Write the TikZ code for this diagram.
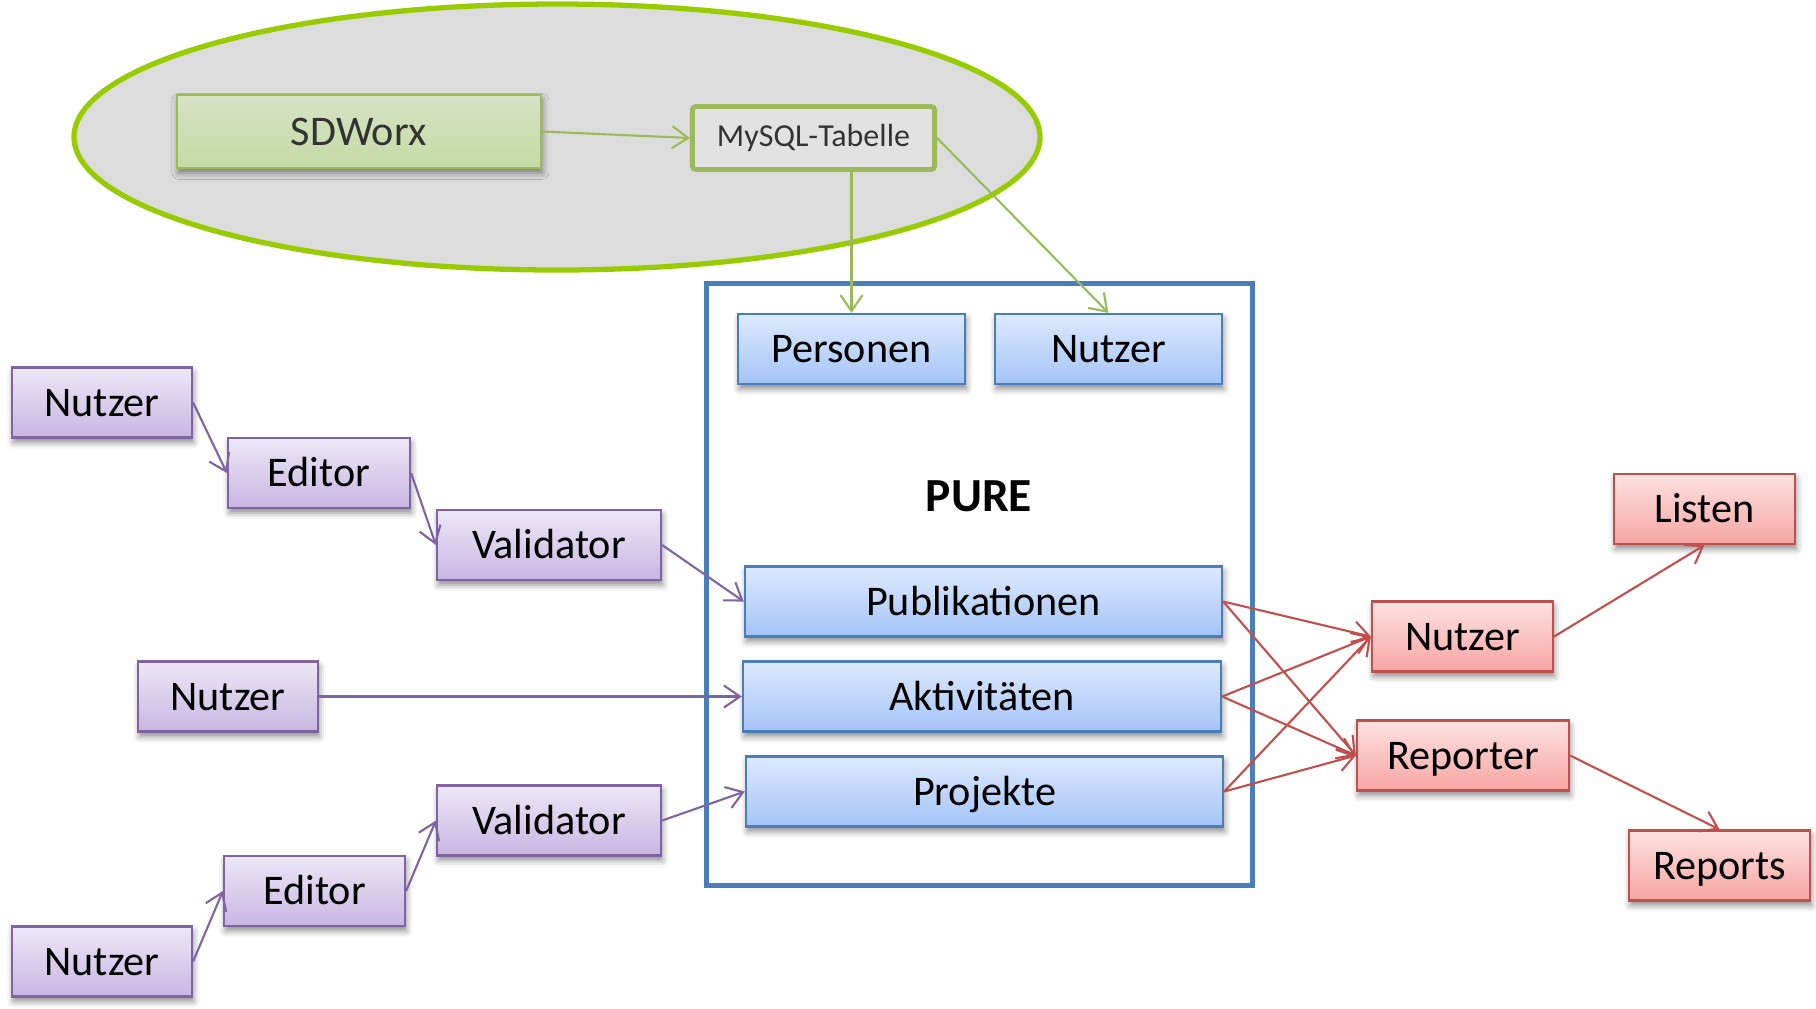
\documentclass[tikz,border=0pt]{standalone}
\usepackage{fontspec}
\setmainfont{Carlito}
\usetikzlibrary{arrows.meta}
\usetikzlibrary{shadows.blur}
\usetikzlibrary{calc}

\definecolor{ovalline}{RGB}{153,204,0}
\definecolor{ovalfill}{RGB}{220,220,220}
\definecolor{grnline}{RGB}{155,187,89}
\definecolor{grntop}{RGB}{215,227,198}
\definecolor{grnbot}{RGB}{196,219,163}
\definecolor{sqlfill}{RGB}{226,226,226}
\definecolor{bluline}{RGB}{74,126,187}
\definecolor{blutop}{RGB}{222,233,253}
\definecolor{blubot}{RGB}{163,196,248}
\definecolor{violine}{RGB}{128,100,162}
\definecolor{viotop}{RGB}{237,231,246}
\definecolor{viobot}{RGB}{200,182,226}
\definecolor{redline}{RGB}{192,80,77}
\definecolor{redtop}{RGB}{253,226,226}
\definecolor{redbot}{RGB}{246,165,162}

\begin{document}
\begin{tikzpicture}[x=0.01cm,y=-0.01cm,
    >={Straight Barb[length=1.6mm,width=2.2mm]},
    every node/.style={font=\fontsize{12}{14}\selectfont},
    box/.style={rectangle,inner sep=0pt,minimum height=0.7cm,line width=0.6pt,
        text height=7.9pt,text depth=0pt,
        blur shadow={shadow xshift=0.4pt,shadow yshift=-1.4pt,shadow blur radius=1.8pt,shadow opacity=45}},
    bluebox/.style={box,draw=bluline,top color=blutop,bottom color=blubot},
    violbox/.style={box,draw=violine,top color=viotop,bottom color=viobot},
    redbox/.style={box,draw=redline,top color=redtop,bottom color=redbot},
    grnarrow/.style={->,draw=grnline,line width=0.6pt},
    violarrow/.style={->,draw=violine,line width=0.6pt},
    redarrow/.style={->,draw=redline,line width=0.6pt}]
    \useasboundingbox (0,0) rectangle (1816,1008);
    \filldraw[draw=ovalline,fill=ovalfill,line width=1.5pt] (557,137) ellipse [x radius=483,y radius=133];
    \node[box,draw=grnline,top color=grntop,bottom color=grnbot,text=black!80,minimum width=3.64cm,minimum height=0.73cm] (sdworx) at (359,131.5) {SDWorx};
    \node[rectangle,draw=grnline,fill=sqlfill,line width=1.4pt,rounded corners=1pt,inner sep=0pt,text=black!80,font=\fontsize{9.1}{10}\selectfont,minimum width=2.42cm,minimum height=0.63cm] (mysql) at (813.5,138) {MySQL-Tabelle\hspace{6pt}};
    \node[rectangle,draw=bluline,line width=1.4pt,minimum width=5.45cm,minimum height=6.01cm] (pure) at (979.5,584.5) {};
    \node[font=\fontsize{13.5}{16}\selectfont\bfseries] (puretitle) at (979,496) {PURE};
    \node[bluebox,minimum width=2.27cm] (personen) at (851.5,349) {Personen};
    \node[bluebox,minimum width=2.27cm] (nutzerdb) at (1108.5,349) {Nutzer};
    \node[bluebox,minimum width=4.77cm] (publ) at (983.5,601.5) {Publikationen};
    \node[bluebox,minimum width=4.78cm] (akt) at (982,696.5) {Aktivitäten};
    \node[bluebox,minimum width=4.77cm] (proj) at (984.5,791.5) {Projekte};
    \node[violbox,minimum width=1.8cm] (nutzerA) at (102,402.5) {Nutzer};
    \node[violbox,minimum width=1.82cm] (editorA) at (319,473) {Editor};
    \node[violbox,minimum width=2.24cm] (validA) at (549,545) {Validator};
    \node[violbox,minimum width=1.8cm] (nutzerB) at (228,696.5) {Nutzer};
    \node[violbox,minimum width=2.24cm] (validC) at (549,820.5) {Validator};
    \node[violbox,minimum width=1.81cm] (editorC) at (314.5,891) {Editor};
    \node[violbox,minimum width=1.8cm] (nutzerC) at (102,961.5) {Nutzer};
    \node[redbox,minimum width=1.81cm] (listen) at (1704.5,509) {Listen};
    \node[redbox,minimum width=1.81cm] (nutzerR) at (1462.5,636.5) {Nutzer};
    \node[redbox,minimum width=2.12cm] (reporter) at (1463,755.5) {Reporter};
    \node[redbox,minimum width=1.81cm] (reports) at (1719.5,865.5) {Reports};
    \draw[grnarrow] (sdworx.east) -- (mysql.west);
    \draw[grnarrow] (mysql.south -| personen.north) -- (personen.north);
    \draw[grnarrow] (mysql.east) -- (nutzerdb.north);
    \draw[violarrow] (nutzerA.east) -- (editorA.west);
    \draw[violarrow] (editorA.east) -- (validA.west);
    \draw[violarrow] (validA.east) -- (publ.west);
    \draw[violarrow] (nutzerB.east) -- (akt.west);
    \draw[violarrow] (nutzerC.east) -- (editorC.west);
    \draw[violarrow] (editorC.east) -- (validC.west);
    \draw[violarrow] (validC.east) -- (proj.west);
    \foreach \src in {publ,akt,proj} {
        \draw[redarrow] (\src.east) -- (nutzerR.west);
        \draw[redarrow] (\src.east) -- (reporter.west);
    }
    \draw[redarrow] (nutzerR.east) -- (listen.south);
    \draw[redarrow] (reporter.east) -- (reports.north);
\end{tikzpicture}
\end{document}
